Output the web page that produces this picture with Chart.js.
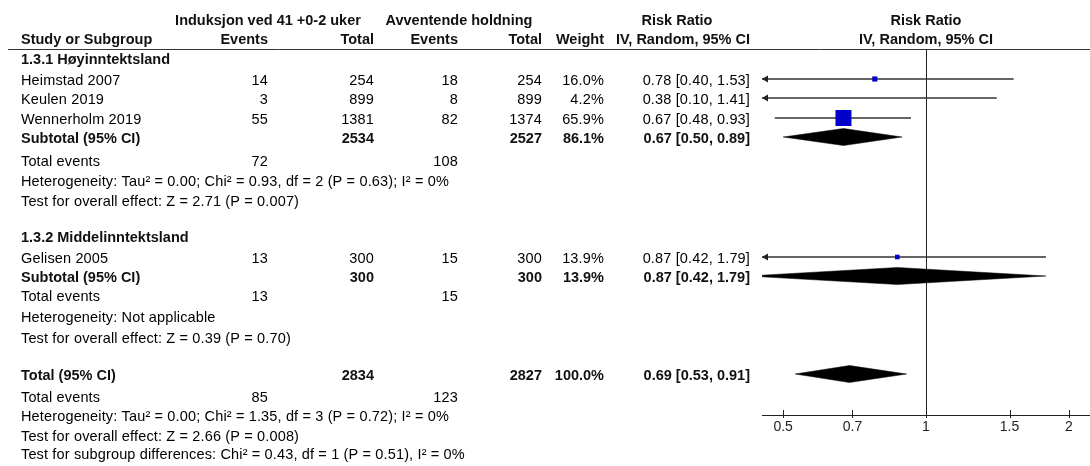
<!DOCTYPE html>
<html><head><meta charset="utf-8">
<script src="https://cdn.jsdelivr.net/npm/chart.js@4.4.1/dist/chart.umd.min.js"></script>
<style>html,body{margin:0;padding:0;background:#fff;}#wrap{width:1090px;height:466px;position:relative;}</style>
</head><body><div id="wrap"><canvas id="c"></canvas></div>
<script>
// ---------- data ----------
const studies = ['Heimstad 2007', 'Keulen 2019', 'Wennerholm 2019', 'Gelisen 2005'];
const indEvents = [14, 3, 55, 13];
const indTotal = [254, 899, 1381, 300];
const avvEvents = [18, 8, 82, 15];
const avvTotal = [254, 899, 1374, 300];
const weights = [16.0, 4.2, 65.9, 13.9];
const rr = [0.78, 0.38, 0.67, 0.87];
const ciLow = [0.40, 0.10, 0.48, 0.42];
const ciHigh = [1.53, 1.41, 0.93, 1.79];

const groups = ['1.3.1 Høyinntektsland', '1.3.2 Middelinntektsland'];
const pooledLabels = ['Subtotal (95% CI)', 'Subtotal (95% CI)', 'Total (95% CI)'];
const pooledTotA = [2534, 300, 2834];
const pooledTotB = [2527, 300, 2827];
const pooledWeight = ['86.1%', '13.9%', '100.0%'];
const pooledEventsA = [72, 13, 85];
const pooledEventsB = [108, 15, 123];
const pooledRR = [0.67, 0.87, 0.69];
const pooledLow = [0.50, 0.42, 0.53];
const pooledHigh = [0.89, 1.79, 0.91];
const heterogeneity = [
  'Heterogeneity: Tau² = 0.00; Chi² = 0.93, df = 2 (P = 0.63); I² = 0%',
  'Heterogeneity: Not applicable',
  'Heterogeneity: Tau² = 0.00; Chi² = 1.35, df = 3 (P = 0.72); I² = 0%'
];
const overallEffect = [
  'Test for overall effect: Z = 2.71 (P = 0.007)',
  'Test for overall effect: Z = 0.39 (P = 0.70)',
  'Test for overall effect: Z = 2.66 (P = 0.008)'
];
const subgroupTest = 'Test for subgroup differences: Chi² = 0.43, df = 1 (P = 0.51), I² = 0%';
const xTicks = [0.5, 0.7, 1, 1.5, 2];

// ---------- layout (row positions in row units) ----------
const studyRows = [2.95, 3.9, 4.9, 11.85];
const groupRows = [1.925, 10.825];
const pooledRows = [5.85, 12.8, 17.7];
const eventRows = [7.01, 13.775, 18.825];
const hetRows = [8.025, 14.825, 19.775];
const effRows = [9.025, 15.875, 20.775];
const subgroupRow = 21.675;
const headRows = [-0.05, 0.925];
const COL = {study: 21, evA: 268, totA: 374, evB: 458, totB: 542, w: 604, rr: 750, plot: 926};
const FONT = '"Liberation Sans", Arial, sans-serif';
const FS = 14.5;
const TXT_OFF = 1.5;
const DIAM_H = 0.425;

const fmt = v => v.toFixed(2);
const rrText = (a, l, h) => `${fmt(a)} [${fmt(l)}, ${fmt(h)}]`;
const maxW = Math.max(...weights);
const boxSide = w => 16 * Math.pow(w / maxW, 0.8);

const boxDataset = {
  label: 'Studies',
  data: studies.map((s, i) => ({x: rr[i], y: studyRows[i]})),
  pointStyle: 'rect',
  pointRadius: weights.map(w => boxSide(w) / (2 * Math.SQRT1_2)),
  pointBackgroundColor: '#0000C8',
  pointBorderColor: '#0000C8',
  pointBorderWidth: 0,
  showLine: false
};
const ciDatasets = studies.map((s, i) => ({
  label: s,
  data: [{x: ciLow[i], y: studyRows[i]}, {x: ciHigh[i], y: studyRows[i]}],
  showLine: true, borderColor: '#333', borderWidth: 1.5, pointRadius: 0, fill: false
}));
const diamondDatasets = pooledLabels.map((n, i) => {
  const r = pooledRows[i];
  return {
    label: n + ' ' + i,
    data: [{x: pooledLow[i], y: r}, {x: pooledRR[i], y: r - DIAM_H}, {x: pooledHigh[i], y: r},
           {x: pooledRR[i], y: r + DIAM_H}, {x: pooledLow[i], y: r}],
    showLine: true, borderColor: '#000', borderWidth: 0.5, backgroundColor: '#000',
    fill: 'shape', pointRadius: 0, tension: 0
  };
});

function txt(ctx, s, x, y, align, bold) {
  ctx.font = (bold ? 'bold ' : '') + FS + 'px ' + FONT;
  ctx.textAlign = align;
  ctx.textBaseline = 'middle';
  ctx.fillStyle = bold ? '#111' : '#000';
  try { ctx.letterSpacing = bold ? '0px' : '0.15px'; } catch (e) {}
  ctx.fillText(String(s), x, y);
}

const forestPlugin = {
  id: 'forest',
  beforeDatasetsDraw(chart) {
    const {ctx, chartArea, scales} = chart;
    ctx.save();
    const x1 = Math.round(scales.x.getPixelForValue(1)) + 0.5;
    ctx.strokeStyle = '#222'; ctx.lineWidth = 1;
    ctx.beginPath(); ctx.moveTo(x1, chartArea.top); ctx.lineTo(x1, chartArea.bottom); ctx.stroke();
    ctx.restore();
  },
  afterDatasetsDraw(chart) {
    const {ctx, chartArea, scales} = chart;
    const Y = r => scales.y.getPixelForValue(r);
    ctx.save();
    ctx.fillStyle = '#222';
    studies.forEach((s, i) => {
      const y = Y(studyRows[i]);
      if (ciLow[i] < scales.x.min) {
        const x = chartArea.left;
        ctx.beginPath(); ctx.moveTo(x, y); ctx.lineTo(x + 6, y - 3.5); ctx.lineTo(x + 6, y + 3.5); ctx.closePath(); ctx.fill();
      }
      if (ciHigh[i] > scales.x.max) {
        const x = chartArea.right;
        ctx.beginPath(); ctx.moveTo(x, y); ctx.lineTo(x - 6, y - 3.5); ctx.lineTo(x - 6, y + 3.5); ctx.closePath(); ctx.fill();
      }
    });
    ctx.restore();
  },
  afterDraw(chart) {
    const {ctx, chartArea, scales} = chart;
    const Y = r => scales.y.getPixelForValue(r) + TXT_OFF;
    ctx.save();
    ctx.strokeStyle = '#333'; ctx.lineWidth = 1;
    ctx.beginPath(); ctx.moveTo(8, Math.round(chartArea.top) + 0.5); ctx.lineTo(1090, Math.round(chartArea.top) + 0.5); ctx.stroke();
    ctx.strokeStyle = '#222';
    xTicks.forEach(v => {
      const x = Math.round(scales.x.getPixelForValue(v)) + 0.5;
      ctx.beginPath(); ctx.moveTo(x, chartArea.bottom - 5); ctx.lineTo(x, chartArea.bottom + 3); ctx.stroke();
    });
    let y = Y(headRows[0]);
    txt(ctx, 'Induksjon ved 41 +0-2 uker', COL.evA, y, 'center', true);
    txt(ctx, 'Avventende holdning', 459, y, 'center', true);
    txt(ctx, 'Risk Ratio', 677, y, 'center', true);
    txt(ctx, 'Risk Ratio', COL.plot, y, 'center', true);
    y = Y(headRows[1]);
    txt(ctx, 'Study or Subgroup', COL.study, y, 'left', true);
    txt(ctx, 'Events', COL.evA, y, 'right', true);
    txt(ctx, 'Total', COL.totA, y, 'right', true);
    txt(ctx, 'Events', COL.evB, y, 'right', true);
    txt(ctx, 'Total', COL.totB, y, 'right', true);
    txt(ctx, 'Weight', COL.w, y, 'right', true);
    txt(ctx, 'IV, Random, 95% CI', COL.rr, y, 'right', true);
    txt(ctx, 'IV, Random, 95% CI', COL.plot, y, 'center', true);
    groups.forEach((g, i) => txt(ctx, g, COL.study, Y(groupRows[i]), 'left', true));
    studies.forEach((s, i) => {
      const yy = Y(studyRows[i]);
      txt(ctx, s, COL.study, yy, 'left', false);
      txt(ctx, indEvents[i], COL.evA, yy, 'right', false);
      txt(ctx, indTotal[i], COL.totA, yy, 'right', false);
      txt(ctx, avvEvents[i], COL.evB, yy, 'right', false);
      txt(ctx, avvTotal[i], COL.totB, yy, 'right', false);
      txt(ctx, weights[i].toFixed(1) + '%', COL.w, yy, 'right', false);
      txt(ctx, rrText(rr[i], ciLow[i], ciHigh[i]), COL.rr, yy, 'right', false);
    });
    pooledLabels.forEach((p, i) => {
      let yy = Y(pooledRows[i]);
      txt(ctx, p, COL.study, yy, 'left', true);
      txt(ctx, pooledTotA[i], COL.totA, yy, 'right', true);
      txt(ctx, pooledTotB[i], COL.totB, yy, 'right', true);
      txt(ctx, pooledWeight[i], COL.w, yy, 'right', true);
      txt(ctx, rrText(pooledRR[i], pooledLow[i], pooledHigh[i]), COL.rr, yy, 'right', true);
      yy = Y(eventRows[i]);
      txt(ctx, 'Total events', COL.study, yy, 'left', false);
      txt(ctx, pooledEventsA[i], COL.evA, yy, 'right', false);
      txt(ctx, pooledEventsB[i], COL.evB, yy, 'right', false);
      txt(ctx, heterogeneity[i], COL.study, Y(hetRows[i]), 'left', false);
      txt(ctx, overallEffect[i], COL.study, Y(effRows[i]), 'left', false);
    });
    txt(ctx, subgroupTest, COL.study, Y(subgroupRow), 'left', false);
    ctx.restore();
  }
};

new Chart(document.getElementById('c'), {
  type: 'scatter',
  data: {datasets: [boxDataset, ...ciDatasets, ...diamondDatasets]},
  options: {
    responsive: true, maintainAspectRatio: false, animation: false, events: [],
    layout: {autoPadding: false, padding: {left: 762, top: 49, right: 0, bottom: 0}},
    plugins: {legend: {display: false}, tooltip: {enabled: false}},
    scales: {
      x: {
        type: 'logarithmic', position: 'bottom', min: 0.4512, max: 2.2165,
        afterBuildTicks: s => { s.ticks = xTicks.map(v => ({value: v})); },
        afterFit: s => { s.height = 51; s.paddingLeft = 0; s.paddingRight = 0; },
        grid: {display: false, drawTicks: false},
        border: {display: true, color: '#222', width: 1},
        ticks: {autoSkip: false, maxRotation: 0, padding: 4, color: '#222',
                font: {family: FONT, size: 14}, callback: v => String(v)}
      },
      y: {type: 'linear', display: false, min: 1.45, max: 19.75, reverse: true}
    }
  },
  plugins: [forestPlugin]
});
</script></body></html>
